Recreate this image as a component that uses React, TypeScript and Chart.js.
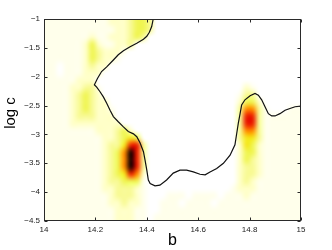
import React, { useEffect, useRef } from 'react';
import { Chart, registerables } from 'chart.js';

Chart.register(...registerables);

// Axis ranges and ticks
const bRange = [14, 15];
const logcRange = [-4.5, -1];
const bTicks = [14, 14.2, 14.4, 14.6, 14.8, 15];
const logcTicks = [-4.5, -4, -3.5, -3, -2.5, -2, -1.5, -1];
const xLabel = 'b';
const yLabel = 'log c';

// Density grid: 40 columns (b, 0.025 wide, from 14) x 28 rows (log c, 0.125 tall, from -1 downward)
// Each digit is an intensity level 0..9
const densityRows = [
  '11111 11111 22234 43000 00000 00000 00000 00000',
  '11111 11111 12234 43000 00000 00000 00000 00000',
  '11111 11211 22234 30000 00000 00000 00000 00000',
  '11111 12421 12230 00000 00000 00000 00000 00000',
  '11111 12432 22100 00000 00000 00000 00000 00000',
  '11111 12432 21000 00000 00000 00000 00000 00000',
  '11011 12322 00000 00000 00000 00000 00000 00000',
  '11011 12220 00000 00000 00000 00000 00000 00000',
  '11111 22200 00000 00000 00000 00000 00000 00000',
  '11112 23310 00000 00000 00000 00000 02100 00000',
  '11112 34320 00000 00000 00000 00000 13300 00000',
  '11112 34322 00000 00000 00000 00000 24420 00000',
  '11112 34322 10000 00000 00000 00000 36631 00011',
  '11112 33322 20000 00000 00000 00000 37731 11111',
  '11112 22222 22000 00000 00000 00000 37731 11111',
  '11111 11122 23420 00000 00000 00000 36631 11111',
  '11111 11112 23454 00000 00000 00000 35531 11111',
  '11111 11112 33577 30000 00000 00000 25421 11111',
  '11111 11112 34697 30000 00000 00000 24421 11111',
  '11111 11112 34697 30000 00000 00000 24321 11111',
  '11111 11112 34697 30000 00000 00000 23321 11111',
  '11111 11112 34576 20000 00000 00000 23321 11111',
  '11111 11112 33444 10000 00000 00000 23211 11111',
  '11111 11112 23332 10000 00000 00001 22211 11111',
  '11111 11111 23332 10001 11011 11011 12111 11111',
  '11111 11111 22322 10011 10111 10111 11111 11111',
  '11111 11111 12221 10011 11111 11111 11111 11111',
  '11111 11111 12221 10111 11111 11111 11111 11111',
];

// Colour for each intensity level (reversed "hot" map)
const levelColors = [
  [255, 255, 255],
  [255, 255, 235],
  [255, 255, 200],
  [248, 250, 150],
  [240, 245, 85],
  [245, 230, 30],
  [255, 140, 0],
  [235, 35, 0],
  [140, 0, 0],
  [25, 0, 0],
];

// Contour line
const contourB = [
  14.425, 14.419, 14.41, 14.4, 14.387, 14.361, 14.335, 14.309, 14.289, 14.27,
  14.244, 14.224, 14.208, 14.196, 14.205, 14.218, 14.231, 14.244, 14.257, 14.27,
  14.289, 14.309, 14.328, 14.348, 14.361, 14.374, 14.387, 14.393, 14.4, 14.406,
  14.413, 14.432, 14.451, 14.477, 14.503, 14.529, 14.555, 14.581, 14.607, 14.627,
  14.646, 14.672, 14.698, 14.724, 14.743, 14.75, 14.756, 14.763, 14.769, 14.782,
  14.802, 14.821, 14.834, 14.847, 14.86, 14.873, 14.886, 14.899, 14.918, 14.938,
  14.957, 14.977, 15.0,
];
const contourLogC = [
  -1.0, -1.13, -1.23, -1.3, -1.35, -1.42, -1.48, -1.55, -1.62, -1.71,
  -1.83, -1.91, -2.03, -2.14, -2.18, -2.26, -2.35, -2.46, -2.58, -2.69,
  -2.78, -2.87, -2.95, -2.99, -3.04, -3.15, -3.3, -3.44, -3.62, -3.79,
  -3.85, -3.89, -3.88, -3.79, -3.67, -3.62, -3.62, -3.65, -3.69, -3.7,
  -3.65, -3.59, -3.5, -3.36, -3.18, -2.98, -2.81, -2.64, -2.49, -2.4,
  -2.33, -2.29, -2.32, -2.4, -2.52, -2.64, -2.68, -2.68, -2.64, -2.58,
  -2.55, -2.52, -2.51,
];

const FONT = "'Liberation Sans', Arial, Helvetica, sans-serif";

const fmt = (v: number) => {
  const r = Math.round(v * 10) / 10;
  return r < 0 ? '\u2212' + String(Math.abs(r)) : String(r);
};

const heatmapPlugin = {
  id: 'heatmap',
  beforeDatasetsDraw(chart: any) {
    const rows = densityRows.map((r) => r.replace(/\s+/g, ''));
    const nRows = rows.length;
    const nCols = rows[0].length;
    const off = document.createElement('canvas');
    off.width = nCols;
    off.height = nRows;
    const octx = off.getContext('2d')!;
    const img = octx.createImageData(nCols, nRows);
    for (let j = 0; j < nRows; j++) {
      for (let i = 0; i < nCols; i++) {
        const lv = parseInt(rows[j][i] || '0', 10);
        const c = levelColors[lv];
        const k = (j * nCols + i) * 4;
        img.data[k] = c[0];
        img.data[k + 1] = c[1];
        img.data[k + 2] = c[2];
        img.data[k + 3] = 255;
      }
    }
    octx.putImageData(img, 0, 0);
    const { ctx, scales } = chart;
    const x0 = scales.x.getPixelForValue(bRange[0]);
    const x1 = scales.x.getPixelForValue(bRange[1]);
    const y0 = scales.y.getPixelForValue(logcRange[1]);
    const y1 = scales.y.getPixelForValue(logcRange[0]);
    ctx.save();
    ctx.imageSmoothingEnabled = true;
    ctx.imageSmoothingQuality = 'high';
    ctx.drawImage(off, x0, y0, x1 - x0, y1 - y0);
    ctx.restore();
  },
};

const boxPlugin = {
  id: 'matlabBox',
  afterDatasetsDraw(chart: any) {
    const { ctx, chartArea: a, scales } = chart;
    ctx.save();
    ctx.strokeStyle = '#2a2a2a';
    ctx.lineWidth = 1;
    const L = Math.round(a.left) + 0.5;
    const R = Math.round(a.right) - 0.5;
    const T = Math.round(a.top) + 0.5;
    const B = Math.round(a.bottom) - 0.5;
    ctx.strokeRect(L, T, R - L, B - T);
    const tl = 3;
    ctx.beginPath();
    bTicks.forEach((v) => {
      const px = Math.round(scales.x.getPixelForValue(v)) + 0.5;
      ctx.moveTo(px, B);
      ctx.lineTo(px, B - tl);
      ctx.moveTo(px, T);
      ctx.lineTo(px, T + tl);
    });
    logcTicks.forEach((v) => {
      const py = Math.round(scales.y.getPixelForValue(v)) + 0.5;
      ctx.moveTo(L, py);
      ctx.lineTo(L + tl, py);
      ctx.moveTo(R, py);
      ctx.lineTo(R - tl, py);
    });
    ctx.stroke();
    // y axis title (MATLAB places it slightly above the axis centre)
    ctx.fillStyle = '#000';
    ctx.font = `15px ${FONT}`;
    ctx.textAlign = 'center';
    ctx.textBaseline = 'middle';
    ctx.translate(11, (a.top + a.bottom) / 2 - 7);
    ctx.rotate(-Math.PI / 2);
    ctx.fillText(yLabel, 0, 0);
    ctx.restore();
  },
};

export default function App() {
  const ref = useRef<HTMLCanvasElement | null>(null);
  useEffect(() => {
    if (!ref.current) return;
    const chart = new Chart(ref.current, {
      type: 'scatter',
      data: {
        datasets: [
          {
            data: contourB.map((b, i) => ({ x: b, y: contourLogC[i] })),
            showLine: true,
            borderColor: '#111',
            borderWidth: 1.2,
            pointRadius: 0,
            tension: 0,
            fill: false,
          },
        ],
      },
      options: {
        animation: false,
        responsive: false,
        devicePixelRatio: 1,
        layout: { padding: { top: 19, right: 31, left: 0, bottom: 0 } },
        plugins: {
          legend: { display: false },
          tooltip: { enabled: false },
        },
        scales: {
          x: {
            type: 'linear',
            min: bRange[0],
            max: bRange[1],
            afterFit: (s: any) => {
              s.height = 29;
            },
            afterBuildTicks: (s: any) => {
              s.ticks = bTicks.map((v) => ({ value: v }));
            },
            ticks: {
              callback: (v: any) => fmt(Number(v)),
              font: { size: 8, family: FONT },
              color: '#222',
              padding: 4,
              maxRotation: 0,
              autoSkip: false,
            },
            grid: { display: false, drawTicks: false },
            border: { display: false },
            title: {
              display: true,
              text: xLabel,
              font: { size: 16, family: FONT, lineHeight: 1 },
              color: '#000',
              padding: { top: 0, bottom: 1 },
            },
          },
          y: {
            type: 'linear',
            min: logcRange[0],
            max: logcRange[1],
            afterFit: (s: any) => {
              s.width = 44;
            },
            afterBuildTicks: (s: any) => {
              s.ticks = logcTicks.map((v) => ({ value: v }));
            },
            ticks: {
              callback: (v: any) => fmt(Number(v)),
              font: { size: 8, family: FONT },
              color: '#222',
              padding: 4,
              autoSkip: false,
            },
            grid: { display: false, drawTicks: false },
            border: { display: false },
            title: { display: false },
          },
        },
      },
      plugins: [heatmapPlugin, boxPlugin],
    } as any);
    return () => chart.destroy();
  }, []);
  return (
    <div style={{ position: 'absolute', left: 0, top: 0, width: 332, height: 250, background: '#fff' }}>
      <canvas ref={ref} width={332} height={250} style={{ display: 'block' }} />
    </div>
  );
}
